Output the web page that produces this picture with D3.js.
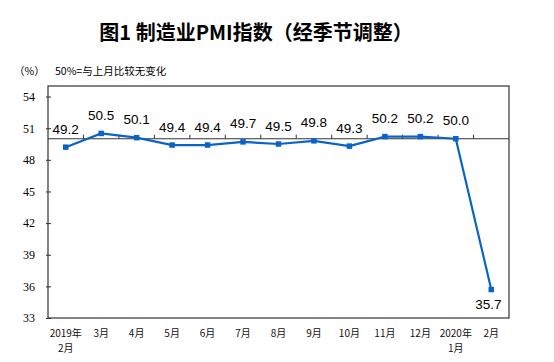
<!DOCTYPE html>
<html><head><meta charset="utf-8">
<script src="https://cdn.jsdelivr.net/npm/d3@7"></script>
<style>body{margin:0;background:#fff}svg{display:block}</style>
</head><body>
<svg id="c" width="554" height="362"></svg>
<script>
const categories = [["2019年","2月"],["3月"],["4月"],["5月"],["6月"],["7月"],["8月"],["9月"],["10月"],["11月"],["12月"],["2020年","1月"],["2月"]];
const values = [49.2,50.5,50.1,49.4,49.4,49.7,49.5,49.8,49.3,50.2,50.2,50.0,35.7];
const yTicks = [33,36,39,42,45,48,51,54];
const title = "图1 制造业PMI指数（经季节调整）";
const unitLabel = "（%）";
const note = "50%=与上月比较无变化";

const svg = d3.select("#c");
const L=48, R=509, T=86, B=318;
const x = d3.scaleBand().domain(d3.range(values.length)).range([L,R]).padding(0);
const y = d3.scaleLinear().domain([33,55]).range([B,T]);
const cjk = "'Noto Sans CJK SC','Noto Sans',sans-serif";

svg.append("text").attr("x",256).attr("y",31).attr("text-anchor","middle")
  .attr("dominant-baseline","central").attr("font-family",cjk).attr("font-weight",700)
  .attr("font-size",20).attr("fill","#000").text(title);
svg.append("text").attr("x",14).attr("y",70).attr("dominant-baseline","central")
  .attr("font-family",cjk).attr("font-size",10.5).attr("fill","#000").text(unitLabel);
svg.append("text").attr("x",55).attr("y",70).attr("dominant-baseline","central")
  .attr("font-family",cjk).attr("font-size",10.5).attr("fill","#000").text(note);

// frame
svg.append("rect").attr("x",L).attr("y",T).attr("width",R-L).attr("height",B-T)
  .attr("fill","none").attr("stroke","#333").attr("stroke-width",1.2);

// y axis
const ya = svg.append("g").attr("transform",`translate(${L},0)`)
  .call(d3.axisLeft(y).tickValues(yTicks).tickSize(0).tickPadding(0).tickFormat(d3.format("d")));
ya.select(".domain").remove();
ya.selectAll(".tick line").remove();
ya.selectAll(".tick").append("line").attr("x1",-2).attr("x2",3).attr("stroke","#333");
ya.selectAll(".tick text").attr("x",-13).attr("font-family","'Liberation Serif',serif")
  .attr("font-size",12).attr("fill","#000");

// x axis at 50
const xa = svg.append("g").attr("transform",`translate(0,${y(50)})`);
xa.append("line").attr("x1",L).attr("x2",R).attr("stroke","#333").attr("stroke-width",1.2);
xa.selectAll("line.tk").data(d3.range(1,values.length)).join("line").attr("class","tk")
  .attr("x1",d=>x(d)).attr("x2",d=>x(d)).attr("y1",0).attr("y2",-4).attr("stroke","#333");

// x labels
const cx = i=>x(i)+x.bandwidth()/2;
const xl = svg.append("g");
categories.forEach((c,i)=>{
  const t = xl.append("text").attr("y",337).attr("text-anchor","middle")
    .attr("font-family",cjk).attr("font-size",10).attr("fill","#111");
  c.forEach((s,j)=>{
    t.append("tspan").attr("x",cx(i)).attr("dy",j===0?0:14.8).text(s);
  });
});

const line = d3.line().x((d,i)=>cx(i)).y(d=>y(d));
svg.append("path").datum(values).attr("d",line).attr("fill","none")
  .attr("stroke","#0a64c8").attr("stroke-width",2.2);
svg.selectAll("rect.m").data(values).join("rect").attr("class","m")
  .attr("x",(d,i)=>cx(i)-2.75).attr("y",d=>y(d)-2.75).attr("width",5.5).attr("height",5.5)
  .attr("fill","#0a64c8");

svg.selectAll("text.lbl").data(values).join("text").attr("class","lbl")
  .attr("x",(d,i)=> i===values.length-1 ? cx(i)-3 : cx(i))
  .attr("y",(d,i)=> i===values.length-1 ? y(d)+19 : y(d)-13.5)
  .attr("text-anchor","middle").attr("font-family","'Liberation Sans',Arial,sans-serif")
  .attr("font-size",13.5).attr("fill","#000").text(d=>d.toFixed(1));
</script>
</body></html>
